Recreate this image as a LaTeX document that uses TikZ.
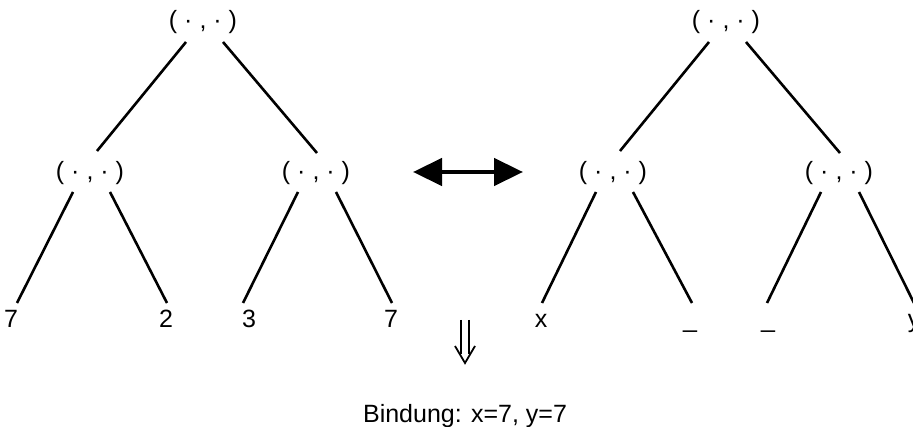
\documentclass[tikz,border=0pt]{standalone}
\usepackage{fontspec}
\setmainfont{Liberation Sans}
\usetikzlibrary{arrows.meta}
\begin{document}
\begin{tikzpicture}[x=1pt,y=-1pt,
  pair/.style={font=\fontsize{25}{30}\selectfont, inner sep=0pt},
  leaf/.style={font=\fontsize{25}{30}\selectfont, inner sep=0pt, anchor=base},
  edge/.style={line width=2.6pt},
  swap/.style={line width=4.5pt,
    {Triangle[length=29pt,width=27pt]}-{Triangle[length=29pt,width=27pt]}},
  implies/.style={line width=1.8pt, line join=miter},
  ]
\useasboundingbox (0,0) rectangle (913,427);

% left tree: pair of pairs with concrete values
\node[pair] (a)  at (203,22)  {( · , · )};
\node[pair] (a1) at (90,173)  {( · , · )};
\node[pair] (a2) at (316,173) {( · , · )};
\node[leaf] (a11) at (11,328)  {7};
\node[leaf] (a12) at (166,328) {2};
\node[leaf] (a21) at (249,328) {3};
\node[leaf] (a22) at (391,328) {7};

\draw[edge] ([shift={(-17,20)}]a.center) -- ([shift={(7,-22)}]a1.center);
\draw[edge] ([shift={(20,20)}]a.center)  -- ([shift={(1,-20)}]a2.center);
\draw[edge] ([shift={(-17,19)}]a1.center) -- ([shift={(6,-25)}]a11.base);
\draw[edge] ([shift={(20,19)}]a1.center)  -- ([shift={(1,-25)}]a12.base);
\draw[edge] ([shift={(-18,19)}]a2.center) -- ([shift={(-6,-25)}]a21.base);
\draw[edge] ([shift={(20,19)}]a2.center)  -- ([shift={(1,-25)}]a22.base);

% right tree: the pattern with variables and wildcards
\node[pair] (b)  at (726,22)  {( · , · )};
\node[pair] (b1) at (613,173) {( · , · )};
\node[pair] (b2) at (839,173) {( · , · )};
\node[leaf] (b11) at (541,328) {x};
\node[leaf] (b12) at (690,328) {\_};
\node[leaf] (b21) at (768,328) {\_};
\node[leaf] (b22) at (914,328) {y};

\draw[edge] ([shift={(-17,20)}]b.center) -- ([shift={(7,-22)}]b1.center);
\draw[edge] ([shift={(20,20)}]b.center)  -- ([shift={(1,-20)}]b2.center);
\draw[edge] ([shift={(-17,19)}]b1.center) -- ([shift={(1,-25)}]b11.base);
\draw[edge] ([shift={(20,19)}]b1.center)  -- ([shift={(2,-25)}]b12.base);
\draw[edge] ([shift={(-18,19)}]b2.center) -- ([shift={(-1,-25)}]b21.base);
\draw[edge] ([shift={(20,19)}]b2.center)  -- ([shift={(0,-25)}]b22.base);

% matching arrow between the two trees
\coordinate (ml) at (413,172);
\coordinate (mr) at (523,172);
\draw[swap] (ml) -- (mr);

% "implies" arrow and the resulting binding
\coordinate (dtop) at (465,320);
\coordinate (dtip) at (465,363);
\draw[implies] ([xshift=-4]dtop) -- ([shift={(-4,-9)}]dtip)
               ([xshift=4]dtop)  -- ([shift={(4,-9)}]dtip);
\draw[implies] ([shift={(-10,-17)}]dtip) -- (dtip) -- ([shift={(10,-17)}]dtip);
\node[leaf] (bind) at (465,422) {Bindung: x=7, y=7};
\end{tikzpicture}
\end{document}
